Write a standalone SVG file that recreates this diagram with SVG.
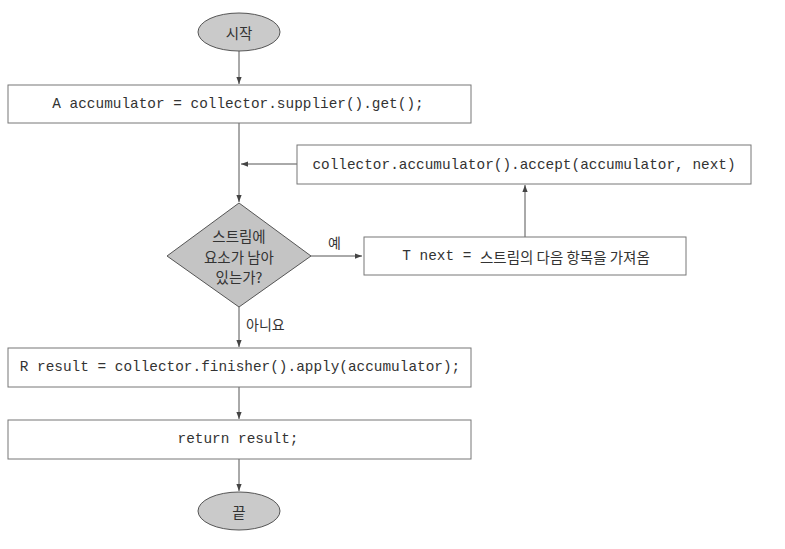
<svg xmlns="http://www.w3.org/2000/svg" width="785" height="549" viewBox="0 0 785 549">
<style>
.term{fill:#cacaca;stroke:#555;stroke-width:1}
.box{fill:#fff;stroke:#777;stroke-width:1}
.dia{fill:#c4c4c4;stroke:#555;stroke-width:1}
.code{font-family:"Liberation Mono","DejaVu Sans Mono","Noto Sans CJK KR",monospace;font-size:14.4px;fill:#333;text-anchor:middle;dominant-baseline:central}
.kr{font-family:"Noto Sans CJK KR","Noto Sans",sans-serif;font-size:14.5px;fill:#333;text-anchor:middle;dominant-baseline:central}
.lbl{font-family:"Noto Sans CJK KR","Noto Sans",sans-serif;font-size:14px;fill:#333;dominant-baseline:central}
.line{fill:none;stroke:#555;stroke-width:1;marker-end:url(#ah)}
</style>
<defs>
<marker id="ah" viewBox="0 0 8 8" refX="8" refY="4" markerWidth="7" markerHeight="7" markerUnits="userSpaceOnUse" orient="auto">
<path d="M0,1 L8,4 L0,7 z" fill="#444"/>
</marker>
</defs>
<rect width="785" height="549" fill="#fff"/>
<g id="connectors">
<line class="line" x1="239" y1="51" x2="239" y2="84"/>
<line class="line" x1="239" y1="123" x2="239" y2="202"/>
<line class="line" x1="297" y1="164" x2="241" y2="164"/>
<line class="line" x1="311" y1="256" x2="362" y2="256"/>
<line class="line" x1="525" y1="237" x2="525" y2="185"/>
<line class="line" x1="239" y1="307" x2="239" y2="347"/>
<line class="line" x1="239" y1="387" x2="239" y2="419"/>
<line class="line" x1="239" y1="459" x2="239" y2="491"/>
<text class="lbl" x="328" y="242">예</text>
<text class="lbl" x="246" y="324">아니요</text>
</g>
<g id="start">
<ellipse class="term" cx="239" cy="32" rx="41" ry="19"/>
<text class="kr" x="239" y="32">시작</text>
</g>
<g id="init">
<rect class="box" x="8" y="85" width="463" height="38"/>
<text class="code" x="238" y="104">A accumulator = collector.supplier().get();</text>
</g>
<g id="accept">
<rect class="box" x="297" y="145" width="454" height="39"/>
<text class="code" x="524" y="165">collector.accumulator().accept(accumulator, next)</text>
</g>
<g id="decision">
<polygon class="dia" points="239,203 311,256 239,307 167,256"/>
<text class="kr" x="239" y="235">스트림에</text>
<text class="kr" x="239" y="256">요소가 남아</text>
<text class="kr" x="239" y="276">있는가?</text>
</g>
<g id="next">
<rect class="box" x="364" y="237" width="322" height="38"/>
<text class="code" x="526" y="256">T next = <tspan style="font-family:'Noto Sans CJK KR',sans-serif;font-size:14.5px">스트림의 다음 항목을 가져옴</tspan></text>
</g>
<g id="finish">
<rect class="box" x="8" y="348" width="463" height="39"/>
<text class="code" x="240" y="367">R result = collector.finisher().apply(accumulator);</text>
</g>
<g id="return">
<rect class="box" x="8" y="420" width="463" height="39"/>
<text class="code" x="238" y="439">return result;</text>
</g>
<g id="end">
<ellipse class="term" cx="239" cy="511" rx="41" ry="19"/>
<text class="kr" x="239" y="511">끝</text>
</g>
</svg>
